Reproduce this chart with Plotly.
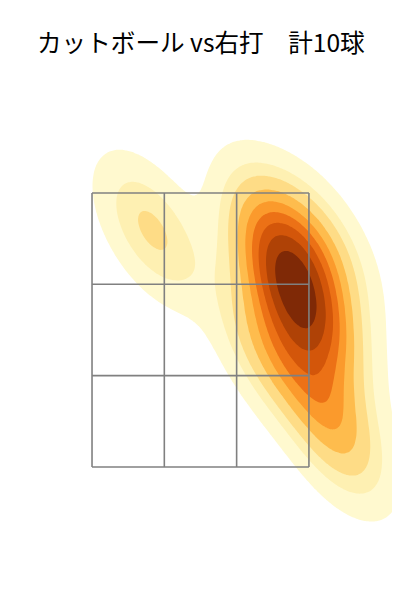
import numpy as np
import plotly.graph_objects as go

title_text = "カットボール vs右打　計10球"

# pitch locations (horizontal, vertical)
plate_x = [-0.37, 0.59, 0.90, 0.65, 0.76, 0.69, 0.85, 0.52, 0.90, 1.05]
plate_z = [3.23, 3.22, 3.12, 2.97, 2.79, 2.68, 2.57, 2.35, 2.10, 1.70]

# strike zone edges
zone_x = [-0.83, -0.2767, 0.2767, 0.83]
zone_z = [1.5, 2.1667, 2.8333, 3.5]

band_colors = ["#FFF9CF", "#FEF0B2", "#FEDC86", "#FEBC4D", "#FB9A2C",
               "#EC7116", "#D3560A", "#AF4206", "#7F2906"]
iso_levels = np.linspace(0.05, 1.0, 10)

# --- Gaussian KDE (Scott bandwidth), like seaborn kdeplot ---
pts = np.vstack([plate_x, plate_z])
n = pts.shape[1]
factor = n ** (-1.0 / 6.0)
cov = np.cov(pts) * factor ** 2
inv = np.linalg.inv(cov)
norm = 1.0 / (2 * np.pi * np.sqrt(np.linalg.det(cov)) * n)
bw = np.sqrt(np.diag(cov))
gx = np.linspace(min(plate_x) - 3 * bw[0], max(plate_x) + 3 * bw[0], 200)
gy = np.linspace(min(plate_z) - 3 * bw[1], max(plate_z) + 3 * bw[1], 200)
XX, YY = np.meshgrid(gx, gy)
grid = np.vstack([XX.ravel(), YY.ravel()])
dens = np.zeros(grid.shape[1])
for i in range(n):
    diff = grid - pts[:, i:i + 1]
    q = np.sum(diff * (inv @ diff), axis=0)
    dens += np.exp(-0.5 * q)
dens *= norm

# convert density to iso-proportion (mass below) so levels are evenly spaced
order = np.argsort(dens)[::-1]
cum = np.cumsum(dens[order]) / dens.sum()
prop = np.empty_like(dens)
prop[order] = 1.0 - cum
Z = prop.reshape(XX.shape)

step = (iso_levels[-1] - iso_levels[0]) / (len(iso_levels) - 1)
colorscale = [[0.0, "rgba(255,255,255,0)"]]
for k, c in enumerate(band_colors):
    colorscale.append([(k + 1) / 10.0, c])
colorscale.append([1.0, band_colors[-1]])

fig = go.Figure()
fig.add_trace(go.Contour(
    x=gx, y=gy, z=Z,
    contours=dict(start=float(iso_levels[0]), end=float(iso_levels[-1]),
                  size=float(step), coloring="fill", showlines=False),
    colorscale=colorscale, showscale=False, line=dict(width=0),
    hoverinfo="skip",
))

grid_line = dict(color="#808080", width=1.6)
for xv in zone_x:
    fig.add_shape(type="line", x0=xv, x1=xv, y0=zone_z[0], y1=zone_z[-1],
                  line=grid_line, layer="above")
for zv in zone_z:
    fig.add_shape(type="line", x0=zone_x[0], x1=zone_x[-1], y0=zv, y1=zv,
                  line=grid_line, layer="above")

fig.update_layout(
    width=392, height=592,
    margin=dict(l=0, r=0, t=0, b=0),
    paper_bgcolor="white", plot_bgcolor="white",
    title=dict(text=title_text, x=0.492, xanchor="center", y=1 - 35 / 592,
               yanchor="middle",
               font=dict(family="Noto Sans CJK JP", size=24.6, color="black")),
    xaxis=dict(range=[-1.473, 1.527], visible=False, showgrid=False),
    yaxis=dict(range=[0.529, 4.850], visible=False, showgrid=False),
    showlegend=False,
)

fig.write_html("out.html")
